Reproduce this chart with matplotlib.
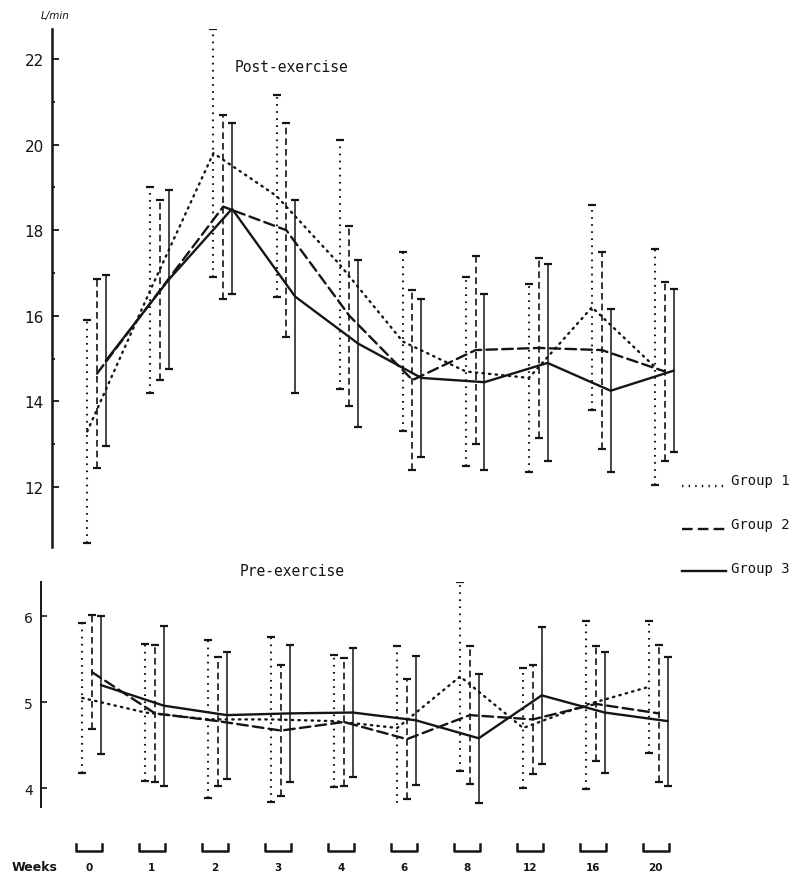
import numpy as np
import matplotlib
matplotlib.use("Agg")
import matplotlib.pyplot as plt
from matplotlib.lines import Line2D

# ventilation (L/min) per follow-up week, mean and spread for each group
weeks = ["0", "1", "2", "3", "4", "6", "8", "12", "16", "20"]

post_g1 = [13.3, 16.6, 19.8, 18.8, 17.2, 15.4, 14.7, 14.55, 16.2, 14.8]
post_g1_err = [2.6, 2.4, 2.9, 2.35, 2.9, 2.1, 2.2, 2.2, 2.4, 2.75]
post_g2 = [14.65, 16.6, 18.55, 18.0, 16.0, 14.5, 15.2, 15.25, 15.2, 14.7]
post_g2_err = [2.2, 2.1, 2.15, 2.5, 2.1, 2.1, 2.2, 2.1, 2.3, 2.1]
post_g3 = [14.95, 16.85, 18.5, 16.45, 15.35, 14.55, 14.45, 14.9, 14.25, 14.72]
post_g3_err = [2.0, 2.1, 2.0, 2.25, 1.95, 1.85, 2.05, 2.3, 1.9, 1.9]

pre_g1 = [5.05, 4.88, 4.8, 4.8, 4.78, 4.7, 5.3, 4.7, 4.97, 5.18]
pre_g1_err = [0.87, 0.8, 0.92, 0.96, 0.77, 0.96, 1.1, 0.7, 0.98, 0.77]
pre_g2 = [5.35, 4.87, 4.78, 4.67, 4.77, 4.57, 4.85, 4.8, 4.98, 4.87]
pre_g2_err = [0.66, 0.8, 0.75, 0.76, 0.75, 0.7, 0.8, 0.63, 0.67, 0.8]
pre_g3 = [5.2, 4.96, 4.85, 4.87, 4.88, 4.79, 4.58, 5.08, 4.88, 4.78]
pre_g3_err = [0.8, 0.93, 0.74, 0.8, 0.75, 0.75, 0.75, 0.8, 0.7, 0.75]

group_names = ["Group 1", "Group 2", "Group 3"]

ink = "#151515"
styles = [(0, (0.6, 2.2)), (0, (4.5, 2.2)), "-"]
bar_styles = [(0, (0.8, 2.6)), (0, (4.0, 2.4)), "-"]
bar_widths = [1.5, 1.2, 1.1]
offsets = [-0.155, 0.0, 0.14]
mono = "DejaVu Sans Mono"

W, H = 793, 879
fig = plt.figure(figsize=(W / 100, H / 100), dpi=100)


def px_box(left, top, right, bottom):
    return [left / W, 1 - bottom / H, (right - left) / W, (bottom - top) / H]


ax1 = fig.add_axes(px_box(52, 30, 793, 548))
ax2 = fig.add_axes(px_box(41, 583, 793, 808))

x = np.arange(len(weeks))


def draw_groups(ax, means, errs):
    for k in range(3):
        xs = x + offsets[k]
        ax.plot(xs, means[k], color=ink, lw=1.7, linestyle=styles[k],
                dash_capstyle="round", solid_capstyle="round")
        _, caps, bars = ax.errorbar(xs, means[k], yerr=errs[k], fmt="none",
                                    ecolor=ink, elinewidth=bar_widths[k],
                                    capsize=3.2, capthick=1.6)
        bars[0].set_linestyle(bar_styles[k])


draw_groups(ax1, [post_g1, post_g2, post_g3],
            [post_g1_err, post_g2_err, post_g3_err])
draw_groups(ax2, [pre_g1, pre_g2, pre_g3],
            [pre_g1_err, pre_g2_err, pre_g3_err])

# upper panel axis
ax1.set_xlim(-0.713, 11.03)
ax1.set_ylim(10.6, 22.7)
ax1.set_yticks([12, 14, 16, 18, 20, 22])
ax1.set_yticklabels(["12", "14", "16", "18", "20", "22"])
ax1.set_yticks([13, 15, 17, 19, 21], minor=True)
ax1.tick_params(axis="y", which="major", direction="in", length=5, width=1.3,
                pad=6, labelsize=11, colors=ink)
ax1.tick_params(axis="y", which="minor", direction="in", length=2, width=1.2)
ax1.set_xticks([])
for s in ["top", "right", "bottom"]:
    ax1.spines[s].set_visible(False)
ax1.spines["left"].set_linewidth(1.8)
ax1.spines["left"].set_color(ink)
ax1.patch.set_alpha(0)

# lower panel axis
ax2.set_xlim(-0.81, 11.13)
ax2.set_ylim(3.78, 6.4)
ax2.set_yticks([4, 5, 6])
ax2.set_yticklabels(["4", "5", "6"])
ax2.tick_params(axis="y", direction="in", length=4, width=1.2, pad=6,
                labelsize=10, colors=ink)
ax2.set_xticks([])
for s in ["top", "right", "bottom"]:
    ax2.spines[s].set_visible(False)
ax2.spines["left"].set_linewidth(1.4)
ax2.spines["left"].set_linestyle((0, (2, 1)))
ax2.spines["left"].set_color(ink)
ax2.patch.set_alpha(0)

# panel titles and unit
fig.text(41 / W, 1 - 16 / H, "L/min", fontsize=7.5, style="italic",
         color=ink, va="center", ha="left")
fig.text(235 / W, 1 - 67 / H, "Post-exercise", fontsize=10.5,
         family=mono, color=ink, va="center", ha="left")
fig.text(240 / W, 1 - 572 / H, "Pre-exercise", fontsize=10.5,
         family=mono, color=ink, va="center", ha="left")

# legend drawn beside the panels
leg_text_y = [481, 525, 569]
leg_line_y = [487, 530, 572]
for k in range(3):
    fy = 1 - leg_line_y[k] / H
    fig.add_artist(Line2D([682 / W, 726 / W], [fy, fy], color=ink, lw=1.7,
                          linestyle=styles[k], transform=fig.transFigure))
    fig.text(731 / W, 1 - leg_text_y[k] / H, group_names[k], fontsize=10,
             family=mono, color=ink, va="center", ha="left")

# week brackets and labels under the lower panel
tr = matplotlib.transforms.blended_transform_factory(ax2.transData,
                                                     fig.transFigure)
half = 13 / 63
yb_top = 1 - 845 / H
yb_bot = 1 - 852 / H
for i, wk in enumerate(weeks):
    xc = x[i] - 0.05
    ax2.plot([xc - half, xc - half, xc + half, xc + half],
             [yb_top, yb_bot, yb_bot, yb_top], color=ink, lw=1.8,
             transform=tr, clip_on=False)
    ax2.text(xc, 1 - 868 / H, wk, transform=tr, fontsize=7.5,
             fontweight="bold", color=ink, ha="center", va="center")
fig.text(12 / W, 1 - 868 / H, "Weeks", fontsize=9, fontweight="bold",
         color=ink, va="center", ha="left")

fig.savefig("out.png", dpi=100, facecolor="white")
